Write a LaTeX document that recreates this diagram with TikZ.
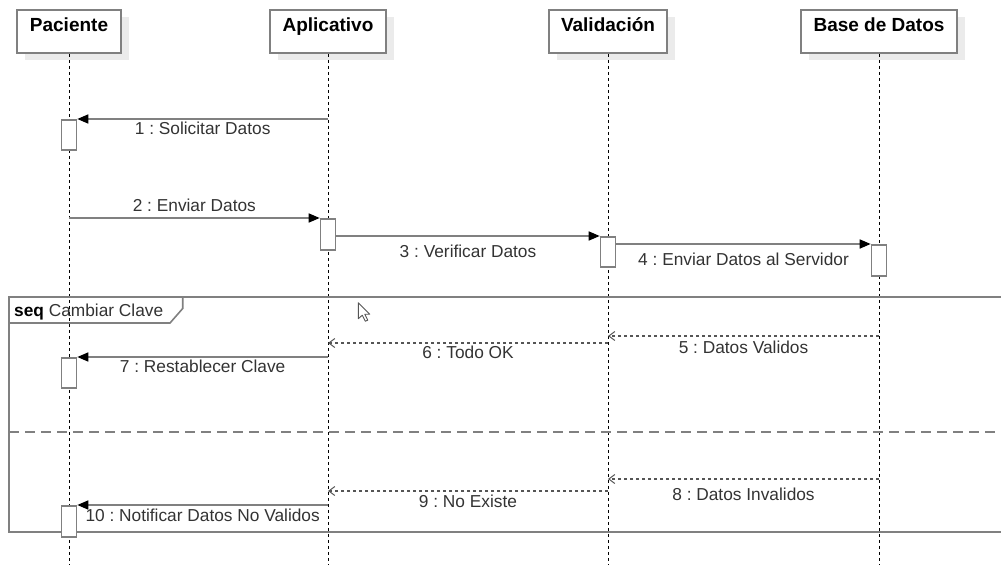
\documentclass[tikz,border=0pt]{standalone}
\usepackage{fontspec}
\setmainfont{Liberation Sans}
\usetikzlibrary{arrows.meta,shadows}
\definecolor{edge}{HTML}{808080}
\definecolor{ink}{HTML}{333333}
\definecolor{ret}{HTML}{555555}
\definecolor{shade}{HTML}{EBEBEB}

\begin{document}
\begin{tikzpicture}[x=1pt,y=-1pt,
  head/.style={draw=edge, line width=1.6pt, fill=white, anchor=north,
    font=\fontsize{19}{22}\selectfont\bfseries, text=black,
    inner xsep=0pt, inner ysep=8pt, text height=13.6pt, text depth=13.7pt,
    drop shadow={shadow xshift=8pt, shadow yshift=-7pt, fill=shade, opacity=1}},
  act/.style={draw=edge, line width=1.6pt, fill=white, anchor=north,
    minimum width=15pt, inner sep=0pt},
  life/.style={black, line width=0.9pt, dash pattern=on 3pt off 3pt},
  call/.style={draw=edge, line width=1.6pt,
    -{Triangle[length=11pt,width=9pt,color=black]}},
  reply/.style={draw=ret, line width=1.1pt, dash pattern=on 3pt off 3pt,
    -{Straight Barb[length=6pt,width=9pt,line width=1pt]}},
  msg/.style={text=ink, font=\fontsize{17.3}{20}\selectfont\frenchspacing,
    inner sep=0pt, text height=12.4pt, text depth=0pt},
  framebox/.style={draw=edge, line width=1.6pt},
]
\useasboundingbox (0,0) rectangle (1001,565);

% participants
\node[head, minimum width=104pt] (pac) at (69,9)  {Paciente};
\node[head, minimum width=116pt] (app) at (328,9) {Aplicativo};
\node[head, minimum width=118pt] (val) at (608,9) {Validación};
\node[head, minimum width=156pt] (db)  at (879,9) {Base de Datos};

% lifelines
\coordinate (pacEnd) at (69,565);
\coordinate (appEnd) at (328,565);
\coordinate (valEnd) at (608,565);
\coordinate (dbEnd)  at (879,565);
\draw[life] (pac.south) -- (pacEnd);
\draw[life] (app.south) -- (appEnd);
\draw[life] (val.south) -- (valEnd);
\draw[life] (db.south)  -- (dbEnd);

% combined fragment "seq"
\draw[framebox] (1001,296.7) -- (9,296.7) -- (9,531.7) -- (1001,531.7);
\draw[framebox] (9,323) -- (170,323) -- (182.7,308.5) -- (182.7,296.7);
\node[anchor=west, inner sep=0pt, font=\fontsize{17.3}{20}\selectfont,
  text height=12.4pt, text depth=0pt] (seqlbl) at (14,310)
  {\textbf{seq} \textcolor{ink}{Cambiar Clave}};
\draw[edge, line width=1.6pt, dash pattern=on 10pt off 6pt] (9,431.7) -- (1001,431.7);

% activations
\node[act, minimum height=30pt] (a1)  at (69,119) {};
\node[act, minimum height=31pt] (a2)  at (328,218) {};
\node[act, minimum height=30pt] (a3)  at (608,236) {};
\node[act, minimum height=31pt] (a4)  at (879,244) {};
\node[act, minimum height=30pt] (a7)  at (69,357) {};
\node[act, minimum height=31pt] (a10) at (69,505) {};

% message end points on lifelines
\coordinate (s1)  at (328,119);
\coordinate (s2)  at (69,218);
\coordinate (s5)  at (879,336);
\coordinate (e5)  at (608,336);
\coordinate (s6)  at (608,343);
\coordinate (e6)  at (328,343);
\coordinate (s7)  at (328,357);
\coordinate (s8)  at (879,479);
\coordinate (e8)  at (608,479);
\coordinate (s9)  at (608,491);
\coordinate (e9)  at (328,491);
\coordinate (s10) at (328,505);

% messages
\draw[call] (s1) -- (a1.north east)
  node[msg, midway, yshift=-9pt] {1 : Solicitar Datos};
\draw[call] (s2) -- (a2.north west)
  node[msg, midway, yshift=12.3pt] {2 : Enviar Datos};
\draw[call] (a2.east |- a3.north) -- (a3.north west)
  node[msg, midway, yshift=-15pt] {3 : Verificar Datos};
\draw[call] (a3.east |- a4.north) -- (a4.north west)
  node[msg, midway, yshift=-15pt] {4 : Enviar Datos al Servidor};
\draw[reply] (s5) -- (e5)
  node[msg, midway, yshift=-11pt] {5 : Datos Validos};
\draw[reply] (s6) -- (e6)
  node[msg, midway, yshift=-9pt] {6 : Todo OK};
\draw[call] (s7) -- (a7.north east)
  node[msg, midway, yshift=-9.7pt] {7 : Restablecer Clave};
\draw[reply] (s8) -- (e8)
  node[msg, midway, yshift=-15pt] {8 : Datos Invalidos};
\draw[reply] (s9) -- (e9)
  node[msg, midway, yshift=-10.7pt] {9 : No Existe};
\draw[call] (s10) -- (a10.north east)
  node[msg, midway, yshift=-10pt] {10 : Notificar Datos No Validos};

% mouse pointer
\draw[fill=white, draw=ret, line width=0.9pt, line join=round]
  (358.3,302.7) -- ++(0,16) -- ++(4,-3.5) -- ++(3,6) -- ++(2.5,-1)
  -- ++(-3,-6) -- ++(5,0) -- cycle;
\end{tikzpicture}
\end{document}
